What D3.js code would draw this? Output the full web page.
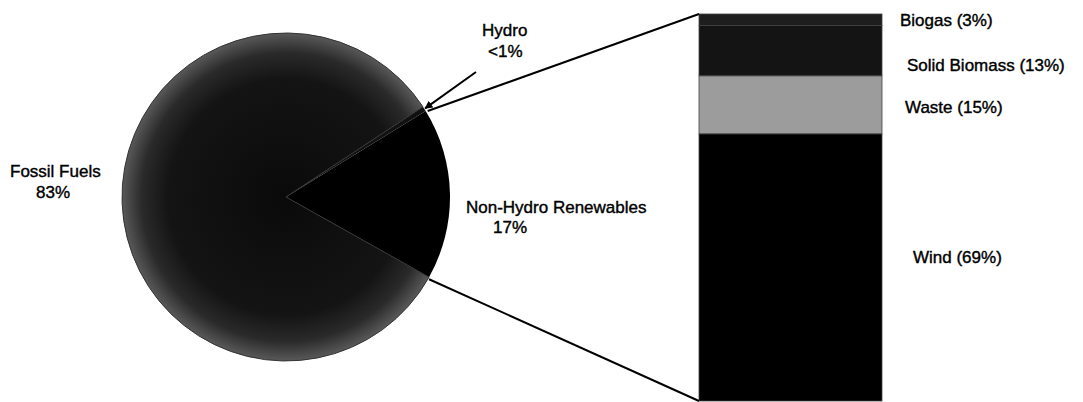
<!DOCTYPE html>
<html>
<head>
<meta charset="utf-8">
<script src="https://cdn.jsdelivr.net/npm/d3@7"></script>
<style>
  html, body { margin: 0; padding: 0; background: #fff; }
  svg { display: block; }
  text { font-family: "Liberation Sans", Arial, sans-serif; fill: #000; }
</style>
</head>
<body>
<svg id="chart" width="1083" height="402"></svg>
<script>
// ---- data ----
const pieCategories = ["Hydro", "Non-Hydro Renewables", "Fossil Fuels"];
const pieValues = [0.5, 17, 83];
const pieLabels = [["Hydro", "<1%"], ["Non-Hydro Renewables", "17%"], ["Fossil Fuels", "83%"]];

const barCategories = ["Biogas", "Solid Biomass", "Waste", "Wind"];
const barValues = [3, 13, 15, 69];
const barLabels = ["Biogas (3%)", "Solid Biomass (13%)", "Waste (15%)", "Wind (69%)"];

// ---- layout ----
const svg = d3.select("#chart");
const cx = 286, cy = 197, R = 164;
const deg = Math.PI / 180;
const startAngle = 56.6 * deg;

const defs = svg.append("defs");
const grad = defs.append("radialGradient").attr("id", "fossilGrad")
  .attr("gradientUnits", "userSpaceOnUse")
  .attr("cx", 0).attr("cy", 0).attr("r", R);
grad.append("stop").attr("offset", "0%").attr("stop-color", "#0a0a0a");
grad.append("stop").attr("offset", "72%").attr("stop-color", "#141414");
grad.append("stop").attr("offset", "88%").attr("stop-color", "#2a2a2a");
grad.append("stop").attr("offset", "100%").attr("stop-color", "#595959");

const pieFills = { "Hydro": "#111", "Non-Hydro Renewables": "#000", "Fossil Fuels": "url(#fossilGrad)" };

const pie = d3.pie().sort(null).value(d => d.v)
  .startAngle(startAngle).endAngle(startAngle + 2 * Math.PI);
const arcs = pie(pieCategories.map((c, i) => ({ c, v: pieValues[i] })));
const arc = d3.arc().innerRadius(0).outerRadius(R);

const gPie = svg.append("g").attr("transform", `translate(${cx},${cy})`);
gPie.selectAll("path").data(arcs).join("path")
  .attr("d", arc)
  .attr("fill", d => pieFills[d.data.c])
  .attr("stroke", d => d.data.c === "Fossil Fuels" ? "#333" : "none")
  .attr("stroke-width", 1);

function rimPoint(a, r = R) {
  return [cx + r * Math.sin(a), cy - r * Math.cos(a)];
}

// ---- bar ----
const barX0 = 699, barX1 = 882;
const y = d3.scaleLinear().domain([0, d3.sum(barValues)]).range([14, 401]);
let acc = 0;
const stack = barValues.map((v, i) => { const s = { c: barCategories[i], y0: acc, y1: acc + v, label: barLabels[i] }; acc += v; return s; });
const barFills = { "Biogas": "#1e1e1e", "Solid Biomass": "#141414", "Waste": "#9c9c9c", "Wind": "#000" };

svg.append("g").selectAll("rect").data(stack).join("rect")
  .attr("x", barX0).attr("width", barX1 - barX0)
  .attr("y", d => y(d.y0)).attr("height", d => y(d.y1) - y(d.y0))
  .attr("fill", d => barFills[d.c])
  .attr("stroke", "#444").attr("stroke-width", 0.8);

// ---- connector lines ----
const nh = arcs.find(d => d.data.c === "Non-Hydro Renewables");
const pTop = rimPoint(nh.startAngle), pBot = rimPoint(nh.endAngle);
svg.append("line").attr("x1", pTop[0] + 2).attr("y1", pTop[1])
  .attr("x2", barX0).attr("y2", y(0))
  .attr("stroke", "#000").attr("stroke-width", 2);
svg.append("line").attr("x1", pBot[0]).attr("y1", pBot[1] + 2)
  .attr("x2", barX0).attr("y2", y(d3.sum(barValues)))
  .attr("stroke", "#000").attr("stroke-width", 2);

// ---- hydro arrow ----
defs.append("marker").attr("id", "arrow").attr("viewBox", "0 0 10 10")
  .attr("refX", 9).attr("refY", 5).attr("markerWidth", 4).attr("markerHeight", 4)
  .attr("orient", "auto")
  .append("path").attr("d", "M0,0 L10,5 L0,10 z").attr("fill", "#000");
const hy = arcs.find(d => d.data.c === "Hydro");
const pHy = rimPoint((hy.startAngle + hy.endAngle) / 2, R + 1);
svg.append("line").attr("x1", 476).attr("y1", 72)
  .attr("x2", pHy[0]).attr("y2", pHy[1])
  .attr("stroke", "#000").attr("stroke-width", 2)
  .attr("marker-end", "url(#arrow)");

// ---- labels ----
const fs = 17;
const labelPos = {
  "Hydro": [[482, 36], [488, 57]],
  "Non-Hydro Renewables": [[466, 213], [493, 233]],
  "Fossil Fuels": [[10, 177], [36, 198]]
};
pieCategories.forEach((c, i) => {
  pieLabels[i].forEach((t, j) => {
    svg.append("text").attr("x", labelPos[c][j][0]).attr("y", labelPos[c][j][1])
      .attr("font-size", fs).attr("stroke", "#000").attr("stroke-width", 0.4).text(t);
  });
});
const barLabelPos = { "Biogas": [900, 26], "Solid Biomass": [907, 71], "Waste": [905, 113], "Wind": [913, 263] };
stack.forEach(d => {
  svg.append("text").attr("x", barLabelPos[d.c][0]).attr("y", barLabelPos[d.c][1])
    .attr("font-size", fs).attr("stroke", "#000").attr("stroke-width", 0.4).text(d.label);
});
</script>
</body>
</html>
